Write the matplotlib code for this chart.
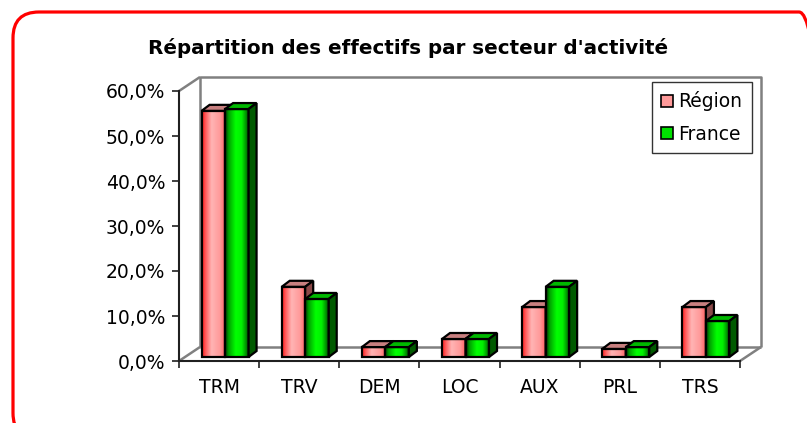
import numpy as np
import matplotlib.pyplot as plt
import matplotlib.patches as mpatches
from matplotlib.colors import LinearSegmentedColormap
from matplotlib.transforms import IdentityTransform

# data (percent)
categories = ['TRM', 'TRV', 'DEM', 'LOC', 'AUX', 'PRL', 'TRS']
region = [54.7, 15.6, 2.2, 4.0, 11.1, 1.8, 11.1]
france = [55.1, 12.9, 2.2, 4.0, 15.6, 2.2, 8.0]
yticks = [0, 10, 20, 30, 40, 50, 60]
ytick_labels = ['0,0%', '10,0%', '20,0%', '30,0%', '40,0%', '50,0%', '60,0%']
series_names = ['Région', 'France']

W, H = 807, 423
fig = plt.figure(figsize=(W / 100, H / 100), dpi=100)
fig.patch.set_facecolor('white')

# plot area = front plane of the 3d box
ax = fig.add_axes([179 / W, (H - 361) / H, 561 / W, 270 / H])
ax.set_facecolor('none')
px_x = 7 / 561
px_y = 60 / 270

# depth of the box, offset of bars, depth of bars (in pixels -> data)
wx, wy = 21 * px_x, 14 * px_y
fx, fy = 6 * px_x, 4 * px_y
dx, dy = 8 * px_x, 6 * px_y
bar_w = 23.5 * px_x

# walls
wall = dict(color='#808080', lw=1.8, clip_on=False, zorder=1, solid_capstyle='butt')
ax.plot([wx, wx, 7 + wx, 7 + wx], [wy, 60 + wy, 60 + wy, wy], **wall)
ax.plot([wx, 7 + wx], [wy, wy], **wall)
ax.plot([0, wx], [60, 60 + wy], **wall)
ax.plot([0, wx], [0, wy], **wall)
ax.plot([7, 7 + wx], [0, wy], **wall)

red_cmap = LinearSegmentedColormap.from_list(
    'red', [(0, '#FF1A1A'), (0.15, '#FF5A5A'), (0.4, '#FFB4B4'), (0.75, '#FF9A9A'), (1, '#FF5E5E')])
green_cmap = LinearSegmentedColormap.from_list(
    'green', [(0, '#003000'), (0.15, '#00A000'), (0.45, '#00FF00'), (0.7, '#00F000'), (0.88, '#009000'), (1, '#004000')])
grad = np.linspace(0, 1, 256).reshape(1, -1)

z = [3]


def draw_bar(x0, v, cmap, top_color, side_color):
    bx, by = x0 + fx, fy
    zz = z[0]
    clip = mpatches.Rectangle((bx, by), bar_w, v, transform=ax.transData)
    im = ax.imshow(grad, extent=(bx, bx + bar_w, by, by + v), cmap=cmap,
                   aspect='auto', origin='lower', interpolation='bilinear', zorder=zz)
    im.set_clip_path(clip)
    ax.add_patch(mpatches.Rectangle((bx, by), bar_w, v, fc='none', ec='black',
                                    lw=1.6, zorder=zz + 0.01, joinstyle='miter'))
    top = [(bx, by + v), (bx + bar_w, by + v), (bx + bar_w + dx, by + v + dy), (bx + dx, by + v + dy)]
    side = [(bx + bar_w, by), (bx + bar_w + dx, by + dy), (bx + bar_w + dx, by + v + dy), (bx + bar_w, by + v)]
    ax.add_patch(mpatches.Polygon(top, fc=top_color, ec='black', lw=1.6, zorder=zz + 0.02, joinstyle='miter'))
    ax.add_patch(mpatches.Polygon(side, fc=side_color, ec='black', lw=1.6, zorder=zz + 0.02, joinstyle='miter'))
    z[0] += 0.1


for i in range(len(categories)):
    draw_bar(i + 0.5 - bar_w, region[i], red_cmap, '#C88080', '#8A4848')
    draw_bar(i + 0.5, france[i], green_cmap, '#00B800', '#005A00')

ax.set_xlim(0, 7)
ax.set_ylim(0, 60)

for s in ['top', 'right']:
    ax.spines[s].set_visible(False)
for s in ['left', 'bottom']:
    ax.spines[s].set_color('#202020')
    ax.spines[s].set_linewidth(1.5)
    ax.spines[s].set_zorder(10)

ax.set_yticks(yticks)
ax.set_yticklabels(ytick_labels, fontsize=13.5)
ax.set_xticks(np.arange(0, 8))
ax.set_xticklabels([])
ax.set_xticks(np.arange(len(categories)) + 0.5, minor=True)
ax.set_xticklabels(categories, minor=True, fontsize=13.5)
ax.tick_params(axis='x', which='minor', length=0, pad=12)
ax.tick_params(axis='both', which='major', length=5, width=1.2, color='#202020', pad=5)

fig.text(408 / W, 1 - 48 / H, "Répartition des effectifs par secteur d'activité",
         ha='center', va='center', fontsize=14.3, fontweight='bold')

handles = [mpatches.Patch(fc='#FF9A9A', ec='black', lw=1.2),
           mpatches.Patch(fc='#00E000', ec='black', lw=1.2)]
leg = fig.legend(handles, series_names, loc='upper left', bbox_to_anchor=(652 / W, 1 - 82 / H),
                 fontsize=13.5, frameon=True, fancybox=False, edgecolor='black',
                 handlelength=0.6, handleheight=0.6, handletextpad=0.3, labelspacing=0.7,
                 borderpad=0.5, borderaxespad=0)
leg.get_frame().set_linewidth(1.0)

# red rounded frame around the chart area (partly cut by the image edge)
frame = mpatches.FancyBboxPatch((13, -16), 812, 427, boxstyle='round,pad=0,rounding_size=26',
                                fc='none', ec='#FF0000', lw=2.3, transform=IdentityTransform())
fig.add_artist(frame)

fig.savefig('out.png', dpi=100, facecolor='white')
